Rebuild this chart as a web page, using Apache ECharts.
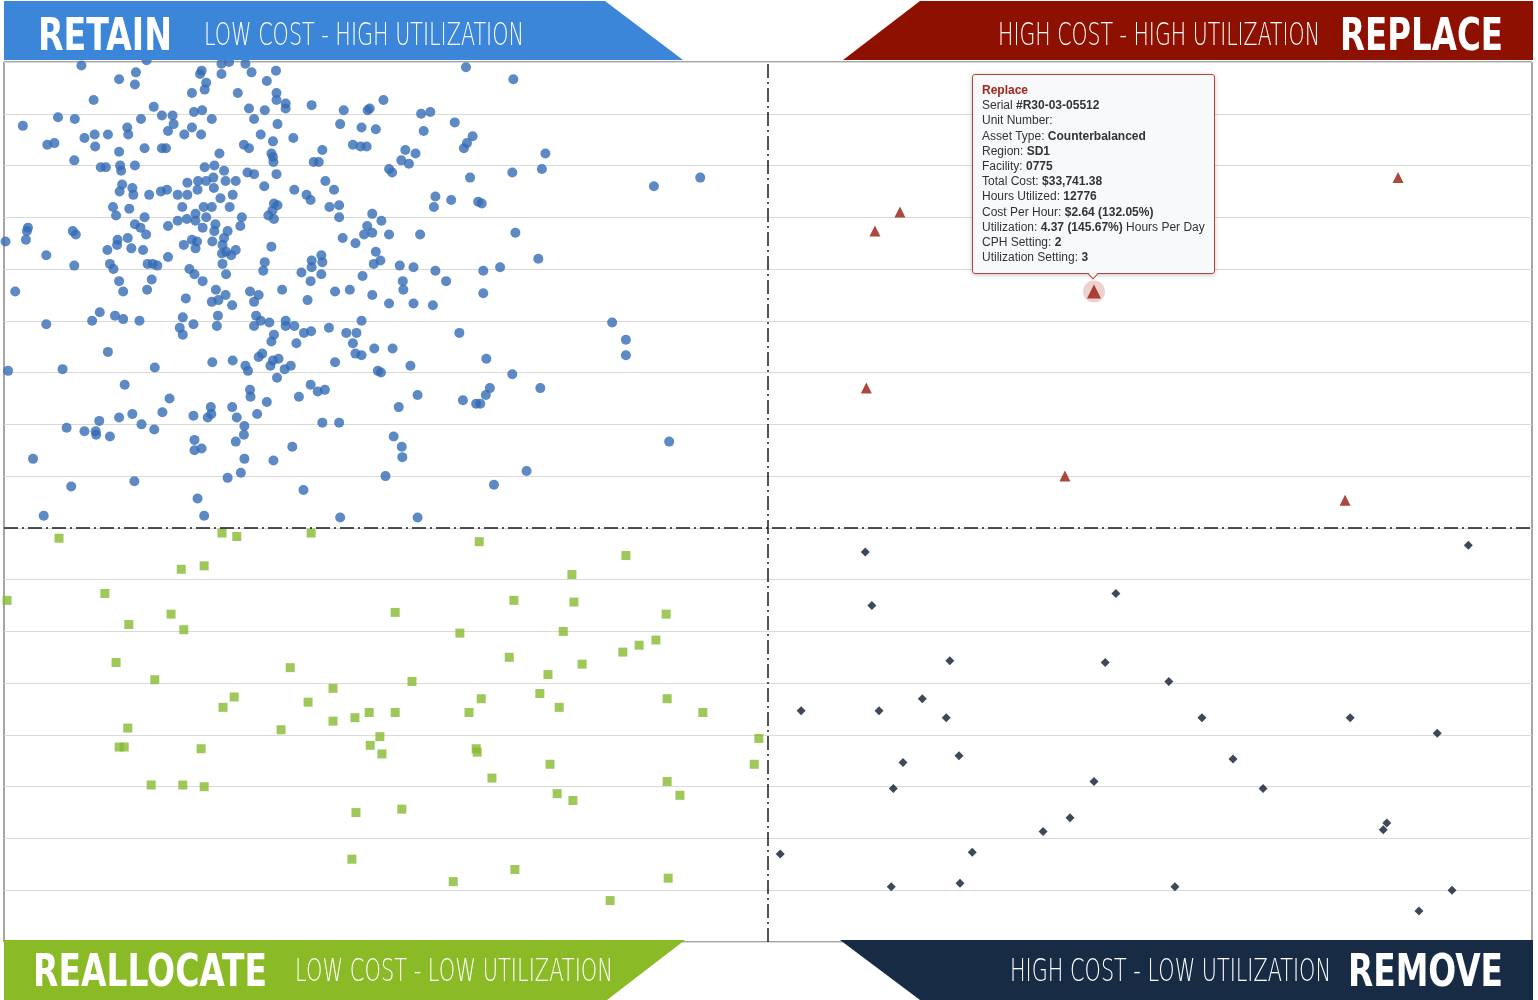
<!DOCTYPE html>
<html><head><meta charset="utf-8">
<script src="https://cdn.jsdelivr.net/npm/echarts@6.0.0/dist/echarts.min.js"></script>
<style>html,body{margin:0;padding:0;background:#fff;}#chart{width:1538px;height:1000px;}</style>
</head><body><div id="chart"></div>
<script>
// x = cost per hour ($), y = utilization (hours per day)
const cphSetting = 2;
const utilizationSetting = 3;
const xRange = [0.5, 3.5];
const yRange = [0.6, 5.7];
const yStep = 0.3;

const retainPoints = [
[0.652,5.68],[0.780,5.71],[0.927,5.69],[0.942,5.70],[0.974,5.69],[1.407,5.67],[1.500,5.60],[0.759,5.64],[0.726,5.60],[0.757,5.57],
[0.888,5.65],[0.885,5.63],[0.927,5.63],[0.986,5.64],[1.034,5.65],[1.016,5.59],[0.897,5.58],[0.894,5.54],[0.869,5.52],[0.959,5.52],
[1.035,5.52],[1.035,5.48],[1.053,5.46],[1.053,5.43],[0.676,5.48],[0.794,5.44],[1.104,5.45],[1.167,5.42],[1.214,5.42],[1.218,5.43],
[1.245,5.48],[1.319,5.40],[1.337,5.41],[0.981,5.43],[1.012,5.42],[0.873,5.41],[0.889,5.42],[0.908,5.37],[0.991,5.37],[0.606,5.38],
[0.639,5.37],[0.537,5.33],[0.769,5.37],[0.810,5.39],[0.831,5.39],[0.833,5.34],[0.822,5.30],[0.742,5.32],[0.744,5.28],[0.704,5.28],
[0.678,5.28],[0.658,5.26],[0.869,5.32],[0.887,5.28],[0.854,5.28],[1.004,5.28],[1.037,5.34],[1.160,5.34],[1.202,5.32],[1.230,5.31],
[1.324,5.30],[1.385,5.35],[1.420,5.27],[1.409,5.23],[1.403,5.20],[1.068,5.26],[1.028,5.24],[0.585,5.22],[0.599,5.23],[0.679,5.21],
[0.726,5.18],[0.776,5.20],[0.810,5.20],[0.818,5.20],[0.923,5.17],[0.971,5.22],[0.981,5.20],[1.025,5.17],[1.028,5.15],[1.029,5.12],
[1.125,5.19],[1.108,5.12],[1.118,5.12],[1.185,5.22],[1.200,5.21],[1.212,5.21],[1.288,5.19],[1.308,5.17],[1.280,5.13],[1.295,5.11],
[1.256,5.08],[1.262,5.06],[1.563,5.17],[1.556,5.08],[1.498,5.06],[1.415,5.03],[0.638,5.13],[0.690,5.09],[0.700,5.09],[0.728,5.10],
[0.730,5.07],[0.757,5.10],[0.894,5.09],[0.913,5.10],[0.932,5.07],[0.978,5.06],[0.991,5.05],[1.035,5.05],[0.860,5.00],[0.881,5.01],
[0.897,5.01],[0.911,5.03],[0.912,4.97],[0.935,5.01],[0.955,5.01],[0.732,4.99],[0.727,4.95],[0.752,4.97],[0.754,4.93],[0.785,4.93],
[0.808,4.95],[0.820,4.96],[0.841,4.93],[0.860,4.93],[0.880,4.96],[0.925,4.91],[0.949,4.93],[1.011,4.98],[1.070,4.96],[1.094,4.93],
[1.102,4.90],[1.131,5.01],[1.148,4.96],[1.139,4.86],[1.158,4.87],[1.158,4.80],[1.030,4.88],[1.037,4.87],[1.027,4.84],[1.019,4.81],
[1.030,4.79],[1.347,4.92],[1.344,4.86],[1.378,4.90],[1.431,4.89],[1.438,4.88],[0.714,4.86],[0.720,4.81],[0.746,4.85],[0.776,4.80],
[0.757,4.76],[0.768,4.74],[0.779,4.70],[0.850,4.86],[0.841,4.78],[0.859,4.79],[0.876,4.82],[0.892,4.86],[0.908,4.86],[0.876,4.78],
[0.897,4.80],[0.890,4.74],[0.915,4.76],[0.943,4.86],[0.967,4.80],[0.964,4.75],[0.822,4.75],[0.913,4.72],[0.939,4.72],[0.932,4.68],
[1.223,4.82],[1.241,4.78],[1.213,4.75],[1.207,4.70],[1.223,4.71],[1.256,4.70],[1.317,4.70],[1.504,4.71],[0.547,4.74],[0.545,4.72],
[0.543,4.67],[0.503,4.66],[0.635,4.72],[0.641,4.70],[0.723,4.67],[0.743,4.68],[0.722,4.64],[0.703,4.61],[0.750,4.62],[0.773,4.61],
[0.583,4.58],[0.638,4.52],[0.708,4.53],[0.715,4.50],[0.782,4.53],[0.792,4.53],[0.801,4.52],[0.822,4.57],[0.853,4.64],[0.869,4.67],
[0.879,4.66],[0.876,4.62],[0.909,4.66],[0.929,4.64],[0.936,4.60],[0.946,4.58],[0.955,4.61],[0.928,4.59],[1.025,4.63],[1.012,4.54],
[1.009,4.49],[1.165,4.68],[1.190,4.65],[1.230,4.60],[1.239,4.55],[1.226,4.53],[1.277,4.52],[1.304,4.51],[1.347,4.49],[1.368,4.43],
[1.441,4.49],[1.474,4.51],[1.549,4.56],[1.204,4.46],[1.104,4.55],[1.104,4.51],[1.123,4.58],[1.125,4.54],[1.123,4.47],[1.084,4.48],
[1.102,4.43],[1.283,4.43],[0.726,4.43],[0.790,4.44],[0.864,4.50],[0.874,4.47],[0.890,4.43],[0.929,4.53],[0.936,4.47],
[0.522,4.37],[0.734,4.37],[0.781,4.38],[0.857,4.33],[0.916,4.38],[0.908,4.31],[0.921,4.32],[0.935,4.35],[0.948,4.29],[0.983,4.37],
[1.000,4.35],[0.991,4.31],[1.046,4.38],[1.096,4.32],[1.150,4.37],[1.179,4.38],[1.223,4.35],[1.256,4.30],[1.304,4.30],[1.342,4.29],
[1.284,4.38],[1.441,4.36],[0.583,4.18],[0.673,4.20],[0.688,4.25],[0.718,4.23],[0.734,4.21],[0.766,4.20],[0.704,4.02],[0.615,3.92],
[0.508,3.91],[0.796,3.93],[0.737,3.83],[0.851,4.22],[0.845,4.16],[0.851,4.12],[0.872,4.18],[0.920,4.23],[0.918,4.17],[0.995,4.23],
[1.004,4.20],[0.991,4.17],[1.021,4.19],[1.053,4.20],[1.053,4.17],[1.070,4.17],[1.089,4.13],[1.103,4.14],[1.138,4.16],[1.172,4.13],
[1.192,4.13],[1.202,4.20],[1.185,4.07],[1.190,4.01],[1.202,4.00],[1.227,4.04],[1.263,4.04],[1.394,4.13],[1.030,4.12],[1.025,4.08],
[1.074,4.07],[0.909,3.96],[0.949,3.97],[0.974,3.94],[0.979,3.91],[1.000,3.99],[1.007,4.01],[1.023,3.94],[1.028,3.97],[1.039,3.98],
[1.051,3.92],[1.063,3.94],[1.036,3.87],[1.150,3.96],[1.234,3.91],[1.240,3.90],[1.298,3.94],[1.447,3.98],[1.498,3.89],[1.553,3.81],
[1.454,3.81],[1.446,3.77],[1.401,3.74],[1.427,3.72],[1.435,3.72],[1.312,3.77],[1.275,3.70],[1.102,3.83],[1.116,3.79],[1.130,3.80],
[1.079,3.76],[0.983,3.80],[0.984,3.76],[1.016,3.73],[0.825,3.75],[0.811,3.67],[0.752,3.66],[0.726,3.64],[0.770,3.60],[0.795,3.57],
[0.687,3.62],[0.680,3.56],[0.681,3.54],[0.658,3.56],[0.623,3.58],[0.708,3.53],[0.872,3.65],[0.900,3.64],[0.907,3.66],[0.906,3.70],
[0.948,3.70],[0.957,3.64],[0.997,3.66],[0.972,3.59],[0.971,3.54],[0.874,3.51],[0.874,3.45],[0.888,3.46],[0.955,3.50],[1.066,3.47],
[1.125,3.61],[1.158,3.61],[1.265,3.53],[1.281,3.47],[1.282,3.41],[0.557,3.40],[0.972,3.40],[1.029,3.39],[0.632,3.24],[0.756,3.27],
[0.939,3.29],[0.965,3.32],[1.088,3.22],[1.249,3.30],[1.462,3.25],[1.526,3.33],[0.880,3.17],[0.578,3.07],[0.893,3.07],[1.160,3.06],
[1.312,3.06],
[1.867,5.03],[1.776,4.98],[1.694,4.19],[1.721,4.09],[1.721,4.00],[1.806,3.50]
];

const reallocatePoints = [
[0.608,2.94],[0.928,2.97],[0.957,2.95],[1.103,2.97],[1.433,2.92],[1.721,2.84],[0.848,2.76],[0.893,2.78],[1.615,2.73],[0.506,2.58],
[0.698,2.62],[1.501,2.58],[1.619,2.57],[0.828,2.50],[1.268,2.51],[0.745,2.44],[0.853,2.41],[1.800,2.50],[1.395,2.39],[1.598,2.40],
[1.780,2.35],[1.747,2.32],[1.715,2.28],[0.720,2.22],[1.062,2.19],[1.492,2.25],[1.635,2.21],[0.796,2.12],[1.568,2.15],[1.301,2.11],
[1.146,2.07],[0.952,2.02],[1.437,2.01],[1.552,2.04],[0.930,1.96],[1.097,1.99],[1.802,2.01],[1.590,1.96],[1.872,1.93],[1.268,1.93],
[1.217,1.93],[1.189,1.90],[1.146,1.88],[1.413,1.93],[0.743,1.84],[1.044,1.83],[1.238,1.79],[1.219,1.74],[1.242,1.69],[0.726,1.73],
[0.736,1.73],[0.887,1.72],[1.427,1.72],[1.429,1.70],[1.982,1.78],[1.572,1.63],[1.973,1.63],[1.458,1.55],[0.789,1.51],[0.851,1.51],
[0.893,1.50],[1.802,1.53],[1.827,1.45],[1.586,1.46],[1.617,1.42],[1.191,1.35],[1.281,1.37],[1.183,1.08],[1.503,1.02],[1.382,0.95],
[1.804,0.97],[1.690,0.84]
];

const replacePoints = [
[2.259,4.83],[2.210,4.72],[3.237,5.03],[2.64,4.37],[2.193,3.81],[2.583,3.30],[3.133,3.16]
];

const removePoints = [
[2.191,2.86],[3.375,2.90],[2.204,2.55],[2.683,2.62],[2.357,2.23],[2.662,2.22],[2.787,2.11],[2.065,1.94],[2.218,1.94],[2.303,2.01],
[2.350,1.90],[2.852,1.90],[3.143,1.90],[3.314,1.81],[2.375,1.68],[2.265,1.64],[2.913,1.66],[2.246,1.49],[2.640,1.53],[2.972,1.49],
[2.593,1.32],[2.540,1.24],[3.215,1.29],[3.208,1.25],[2.024,1.11],[2.401,1.12],[2.242,0.92],[2.377,0.94],[2.799,0.92],[3.343,0.90],
[3.278,0.78]
];

// tooltip shown for this Replace unit
const focusIndex = 3;
const focusTitle = 'Replace';
const focusDetails = [
  ['Serial ', '#R30-03-05512', ''],
  ['Unit Number: ', '', ''],
  ['Asset Type: ', 'Counterbalanced', ''],
  ['Region: ', 'SD1', ''],
  ['Facility: ', '0775', ''],
  ['Total Cost: ', '$33,741.38', ''],
  ['Hours Utilized: ', '12776', ''],
  ['Cost Per Hour: ', '$2.64 (132.05%)', ''],
  ['Utilization: ', '4.37 (145.67%)', ' Hours Per Day'],
  ['CPH Setting: ', '2', ''],
  ['Utilization Setting: ', '3', '']
];

const bannerTitles = ['RETAIN', 'REPLACE', 'REALLOCATE', 'REMOVE'];
const bannerSubtitles = ['LOW COST - HIGH UTILIZATION', 'HIGH COST - HIGH UTILIZATION', 'LOW COST - LOW UTILIZATION', 'HIGH COST - LOW UTILIZATION'];

const BOLD_FONT = 'bold 45px "Liberation Sans Narrow", "DejaVu Sans Condensed", "Liberation Sans", sans-serif';
const THIN_FONT = '200 32px "DejaVu Sans", "Liberation Sans Narrow", sans-serif';
const mctx = document.createElement('canvas').getContext('2d');
function fit(text, font, w) { mctx.font = font; return w / mctx.measureText(text).width; }
function txt(text, font, left, cy, w) {
  return { type: 'text', x: left, y: cy, z: 101, scaleX: fit(text, font, w), silent: true,
    style: { text: text, font: font, fill: '#ffffff', align: 'left', verticalAlign: 'middle', textAlign: 'left', textVerticalAlign: 'middle' } };
}
function poly(pts, color) {
  return { type: 'polygon', z: 100, silent: true, shape: { points: pts }, style: { fill: color } };
}

const chart = echarts.init(document.getElementById('chart'), null, { renderer: 'canvas' });

const tipHtml = '<div style="color:#a5261b;font-weight:bold;">' + focusTitle + '</div>' +
  focusDetails.map(d => '<div>' + d[0] + '<b>' + d[1] + '</b>' + d[2] + '</div>').join('');

chart.setOption({
  animation: false,
  grid: { left: 4, right: 6, top: 62, bottom: 58, show: true, borderColor: '#4a4a4a', borderWidth: 1, backgroundColor: '#fff' },
  xAxis: { type: 'value', min: xRange[0], max: xRange[1], axisLine: { show: false }, axisTick: { show: false }, axisLabel: { show: false }, splitLine: { show: false } },
  yAxis: { type: 'value', min: yRange[0], max: yRange[1], interval: yStep, axisLine: { show: false }, axisTick: { show: false }, axisLabel: { show: false },
    splitLine: { show: true, lineStyle: { color: '#d9d9d9', width: 1 } } },
  tooltip: {
    trigger: 'item', triggerOn: 'none', alwaysShowContent: true, transitionDuration: 0,
    position: 'top', confine: false,
    backgroundColor: 'rgba(248,249,251,0.97)', borderColor: '#b4473c', borderWidth: 1, padding: [8, 9, 8, 9],
    textStyle: { color: '#333', fontSize: 12, fontFamily: '"Liberation Sans", Arial, Helvetica, sans-serif' },
    extraCssText: 'box-shadow:0 1px 4px rgba(0,0,0,0.25);border-radius:3px;line-height:15.2px;',
    formatter: function (p) { return p.seriesName === 'Replace' && p.dataIndex === focusIndex ? tipHtml : ''; }
  },
  series: [
    { name: 'Retain', type: 'scatter', data: retainPoints, symbol: 'circle', symbolSize: 10, clip: false, z: 3,
      itemStyle: { color: '#356bb5' },
      markLine: { silent: true, symbol: ['none', 'none'], label: { show: false },
        lineStyle: { color: '#1a1a1a', width: 1.5, type: [14, 4, 2, 4] },
        data: [{ xAxis: cphSetting }, { yAxis: utilizationSetting }] } },
    { name: 'Reallocate', type: 'scatter', data: reallocatePoints, symbol: 'rect', symbolSize: 9, z: 3, itemStyle: { color: '#86ba30' } },
    { name: 'Halo', type: 'scatter', data: [replacePoints[focusIndex]], symbol: 'circle', symbolSize: 22, z: 2, silent: true,
      itemStyle: { color: 'rgba(180,50,40,0.28)' }, tooltip: { show: false } },
    { name: 'Replace', type: 'scatter', symbol: 'triangle', z: 4,
      data: replacePoints.map((p, i) => i === focusIndex ? { value: p, symbolSize: 14 } : { value: p, symbolSize: 11 }),
      itemStyle: { color: '#981a0e' } },
    { name: 'Remove', type: 'scatter', data: removePoints, symbol: 'diamond', symbolSize: 9, z: 3, itemStyle: { color: '#0d1a2f' } }
  ],
  graphic: [
    poly([[4, 1], [605, 1], [683, 60], [4, 60]], '#3b86d9'),
    poly([[920, 1], [1533, 1], [1533, 60], [843, 60]], '#8e1001'),
    poly([[4, 940], [685, 940], [607, 1000], [4, 1000]], '#8aba25'),
    poly([[840, 940], [1533, 940], [1533, 1000], [920, 1000]], '#182b45'),
    txt(bannerTitles[0], BOLD_FONT, 38, 38.5, 134),
    txt(bannerSubtitles[0], THIN_FONT, 204, 37, 320),
    txt(bannerSubtitles[1], THIN_FONT, 998, 37, 322),
    txt(bannerTitles[1], BOLD_FONT, 1340, 38.5, 163),
    txt(bannerTitles[2], BOLD_FONT, 33, 974.5, 234),
    txt(bannerSubtitles[2], THIN_FONT, 295, 973, 318),
    txt(bannerSubtitles[3], THIN_FONT, 1010, 973, 321),
    txt(bannerTitles[3], BOLD_FONT, 1348, 974.5, 155)
  ]
});

chart.dispatchAction({ type: 'showTip', seriesIndex: 3, dataIndex: focusIndex });
</script>
</body></html>
